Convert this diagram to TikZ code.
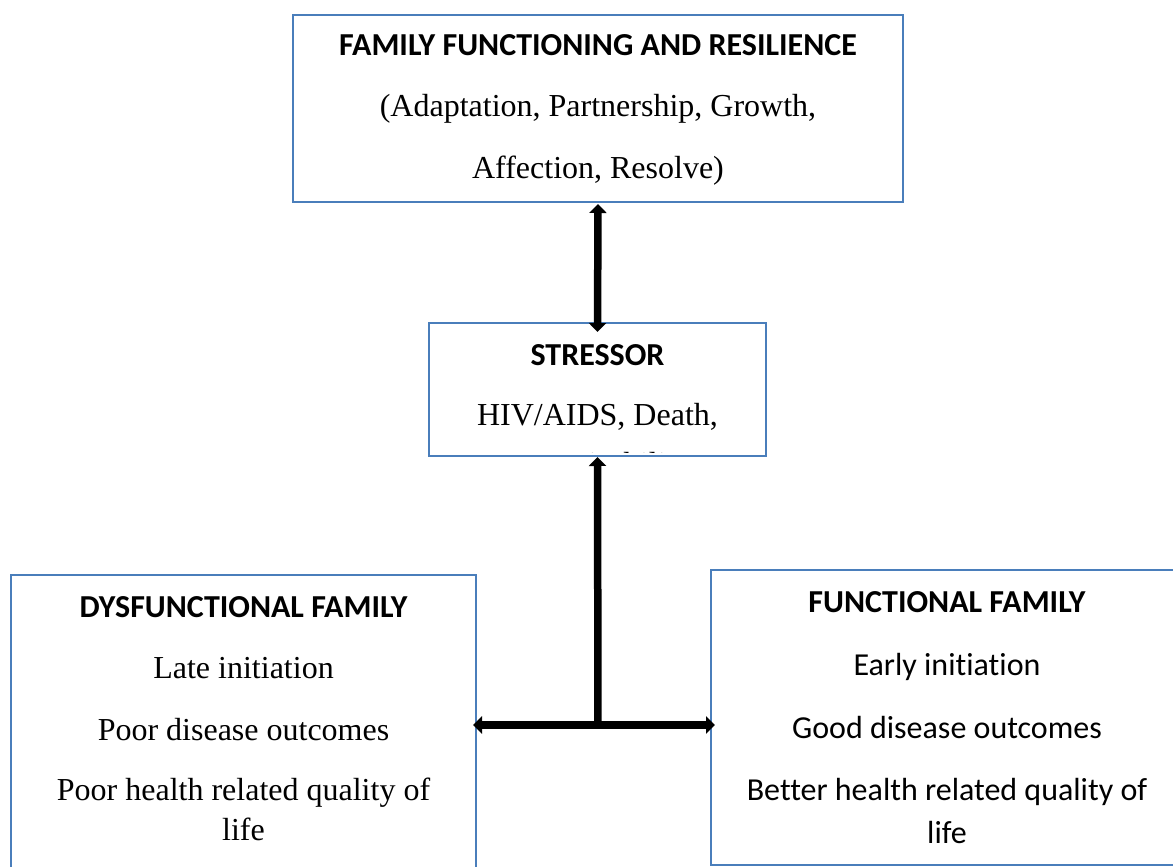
\documentclass[tikz,border=0pt]{standalone}
\usepackage{fontspec}
\setmainfont{Liberation Serif}
\newfontfamily\calibrifont[RawFeature={-liga;-clig;-dlig}]{Carlito}
\usetikzlibrary{arrows.meta}
\definecolor{boxblue}{RGB}{74,126,187}
\begin{document}
\begin{tikzpicture}[x=1pt,y=-1pt,
  box/.style={draw=boxblue,line width=2.5pt,inner sep=0pt,outer sep=0pt,anchor=north west},
  hd/.style={font=\calibrifont\bfseries\fontsize{32}{38}\selectfont,anchor=base,inner sep=0pt},
  tr/.style={font=\fontsize{32}{38}\selectfont,anchor=base,inner sep=0pt},
  cb/.style={font=\calibrifont\fontsize{32}{38}\selectfont,anchor=base,inner sep=0pt},
  link/.style={line width=7.5pt,black},
  arrhead/.tip={Triangle[width=17pt,length=9pt]}
]
\useasboundingbox (0,0) rectangle (1173,867);
\fill[white] (0,0) rectangle (1173,867);

% boxes
\node[box,minimum width=610pt,minimum height=187pt] (top) at (293,15) {};
\node[box,minimum width=337pt,minimum height=133pt] (stress) at (429,323) {};
\node[box,minimum width=465pt,minimum height=320pt] (dys) at (11,575) {};
\node[box,minimum width=472pt,minimum height=295pt] (fun) at (711,570) {};

% top box text
\node[hd] (t1) at (598,56) {FAMILY FUNCTIONING AND RESILIENCE};
\node[tr] (t2) at (598,117) {(Adaptation, Partnership, Growth,};
\node[tr] (t3) at (598,178) {Affection, Resolve)};

% stressor text
\node[hd] (s1) at (597.5,365) {STRESSOR};
\node[tr] (s2) at (597.5,425) {HIV/AIDS, Death,};
\begin{scope}
  \clip (stress.north west) rectangle ([yshift=4pt]stress.south east);
  \node[tr,anchor=base west] (s3) at (565,474) {Disability};
\end{scope}

% dysfunctional family text
\node[hd] (d1) at (243.5,617) {DYSFUNCTIONAL FAMILY};
\node[tr] (d2) at (243.5,678) {Late initiation};
\node[tr] (d3) at (243.5,740) {Poor disease outcomes};
\node[tr] (d4) at (243.5,800) {Poor health related quality of};
\node[tr] (d5) at (243.5,840) {life};

% functional family text
\node[hd] (f1) at (947,612) {FUNCTIONAL FAMILY};
\node[cb] (f2) at (947,675) {Early initiation};
\node[cb] (f3) at (947,738) {Good disease outcomes};
\node[cb] (f4) at (947,800) {Better health related quality of};
\node[cb] (f5) at (947,843) {life};

% connectors
\coordinate (junc) at (598,725);
\draw[link,arrhead-arrhead] ([yshift=-9pt]stress.north) -- ([yshift=-2pt]top.south);
\draw[link,-arrhead] ([yshift=-3.5pt]junc) -- ([yshift=-1pt]stress.south);
\draw[link,arrhead-arrhead] ([xshift=-3pt]dys.east |- junc) -- ([xshift=4pt]fun.west |- junc);
\end{tikzpicture}
\end{document}
